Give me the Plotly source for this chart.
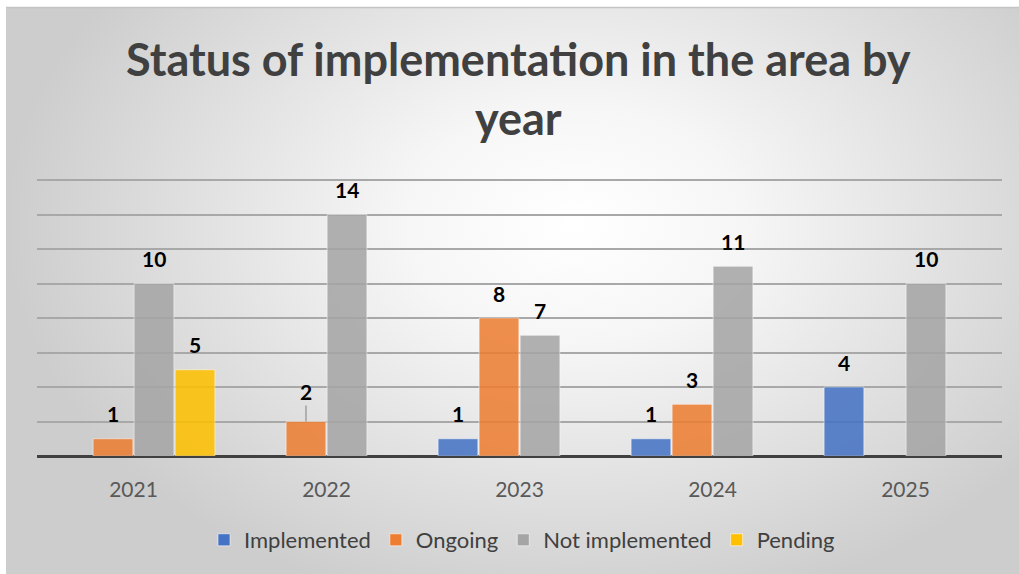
import plotly.graph_objects as go

# ---- data ----
years = ["2021", "2022", "2023", "2024", "2025"]
implemented = [None, None, 1, 1, 4]
ongoing = [1, 2, 8, 3, None]
not_implemented = [10, 14, 7, 11, 10]
pending = [5, None, None, None, None]

series_names = ["Implemented", "Ongoing", "Not implemented", "Pending"]
series_values = [implemented, ongoing, not_implemented, pending]
series_colors = ["#4472C4", "#ED7D31", "#A5A5A5", "#FFC000"]

W, H = 1019, 574
FONT = "Lato"
BARGAP = 0.15
GROUPGAP = 0.03

fig = go.Figure()

# soft radial backdrop on a full-canvas helper subplot (x/y)
fig.add_trace(go.Scatter(
    x=[6 / W, 1.12, 1.12, 6 / W, 6 / W],
    y=[-0.08, -0.08, 1.3, 1.3, -0.08],
    mode="none", fill="toself",
    fillgradient=dict(type="radial",
                      colorscale=[[0, "#ffffff"], [0.3, "#f6f6f6"], [1, "#cdcdcd"]]),
    hoverinfo="skip", showlegend=False, xaxis="x", yaxis="y",
))

# grouped bars on the chart subplot (x2/y2)
for name, vals, col in zip(series_names, series_values, series_colors):
    fig.add_trace(go.Bar(
        x=years, y=vals, name=name, xaxis="x2", yaxis="y2",
        marker=dict(color=col, opacity=0.86,
                    line=dict(color="rgba(255,255,255,0.55)", width=1)),
        hoverinfo="skip",
    ))

# value labels above each bar
slot = (1 - BARGAP) / len(series_names)
label_font = dict(family=FONT, size=21, color="#000000")
annotations = []
for k, vals in enumerate(series_values):
    for i, v in enumerate(vals):
        if v is None:
            continue
        xpos = i - (1 - BARGAP) / 2 + slot * (k + 0.5)
        if years[i] == "2022" and series_names[k] == "Ongoing":
            annotations.append(dict(
                x=xpos, y=v, xref="x2", yref="y2", text=f"<b>{v}</b>",
                showarrow=True, arrowhead=0, arrowwidth=1, arrowcolor="#7f7f7f",
                ax=0, ay=-30, standoff=0, startstandoff=0, font=label_font,
            ))
        else:
            annotations.append(dict(
                x=xpos, y=v, xref="x2", yref="y2", text=f"<b>{v}</b>",
                showarrow=False, yanchor="middle", yshift=25, font=label_font,
            ))

# chart title
annotations.append(dict(
    text="<b>Status of implementation in the area by<br>year</b>",
    xref="paper", yref="paper", x=518 / W, y=1 - 89 / H,
    xanchor="center", yanchor="middle", showarrow=False,
    font=dict(family=FONT, size=45, color="#404040"),
))

shapes = [
    # white page edges around the chart panel
    dict(type="rect", xref="paper", yref="paper", x0=0, x1=6 / W, y0=0, y1=1,
         fillcolor="#ffffff", line=dict(width=0), layer="above"),
    dict(type="rect", xref="paper", yref="paper", x0=0, x1=1, y0=1 - 7 / H, y1=1,
         fillcolor="#ffffff", line=dict(width=0), layer="above"),
    dict(type="line", xref="paper", yref="paper", x0=6 / W, x1=1, y0=1 - 7.5 / H, y1=1 - 7.5 / H,
         line=dict(color="#c4c4c4", width=1.5), layer="above"),
    # legend panel
    dict(type="rect", xref="paper", yref="paper",
         x0=176 / W, x1=861 / W, y0=1 - 563 / H, y1=1 - 517 / H,
         fillcolor="rgba(245,245,245,0.75)", line=dict(width=0), layer="below"),
]

fig.update_layout(
    width=W, height=H,
    margin=dict(l=0, r=0, t=0, b=0),
    paper_bgcolor="#ffffff",
    plot_bgcolor="rgba(0,0,0,0)",
    barmode="group", bargap=BARGAP, bargroupgap=GROUPGAP,
    xaxis=dict(domain=[0, 1], range=[0, 1], visible=False, fixedrange=True),
    yaxis=dict(domain=[0, 1], range=[0, 1], visible=False, fixedrange=True),
    xaxis2=dict(
        domain=[37 / W, 1002 / W], anchor="y2", type="category",
        showgrid=False, showline=False, zeroline=False,
        ticks="outside", ticklen=15, tickcolor="rgba(0,0,0,0)",
        tickfont=dict(family=FONT, size=21, color="#595959"),
    ),
    yaxis2=dict(
        domain=[1 - 456 / H, 1 - 179 / H], anchor="x2", range=[0, 16.06], dtick=2,
        showticklabels=False, showgrid=True, gridcolor="#a8a8a8", gridwidth=1.5,
        zeroline=True, zerolinecolor="#404040", zerolinewidth=3, showline=False,
    ),
    showlegend=True,
    legend=dict(
        orientation="h", x=522 / W, xanchor="center", y=1 - 540 / H, yanchor="middle",
        bgcolor="rgba(0,0,0,0)", font=dict(family=FONT, size=22, color="#404040"),
        itemwidth=30, itemclick=False, itemdoubleclick=False,
    ),
    annotations=annotations,
    shapes=shapes,
)

fig.write_html("out.html")
